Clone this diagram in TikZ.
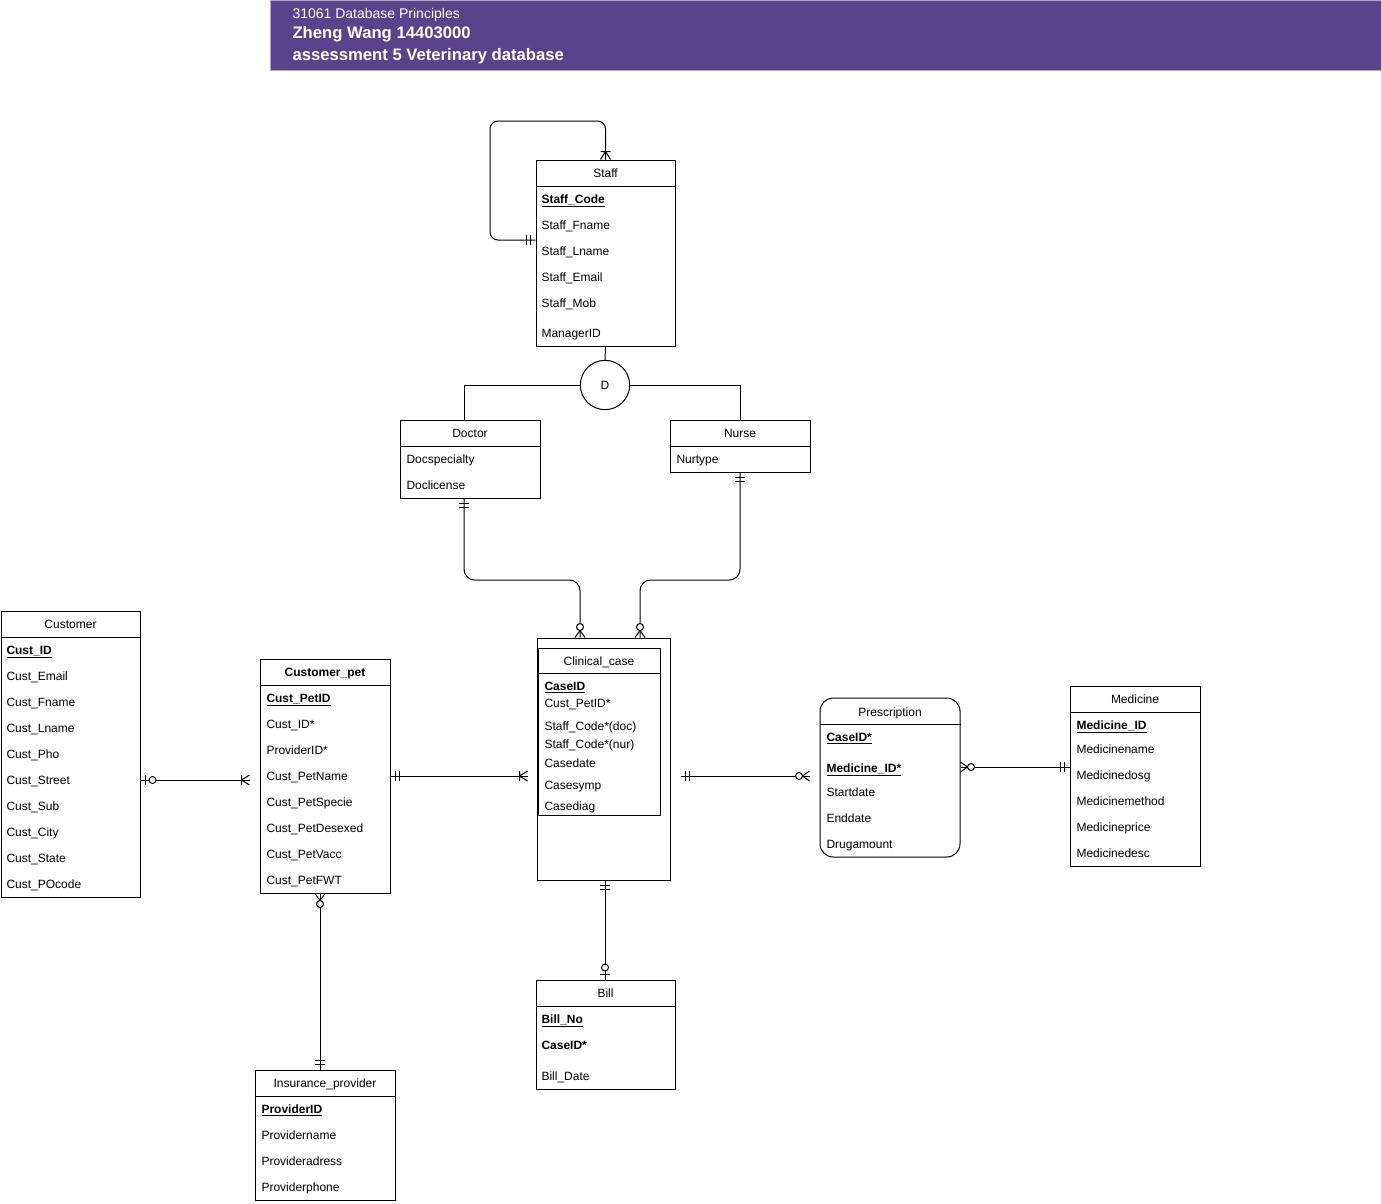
\documentclass[tikz,border=0pt]{standalone}
\usepackage{fontspec}
\setmainfont{Liberation Sans}
\usetikzlibrary{fit,positioning,calc,decorations.markings}

\definecolor{headpurple}{RGB}{91,67,140}
\definecolor{headedge}{RGB}{176,166,206}

\newcommand{\keyattr}[1]{\underline{\textbf{#1}}}
% ER end marks, drawn with the entity at x=0 and the line coming from the left
\newcommand{\mkone}{\draw (-5,-5) -- (-5,5) (-9,-5) -- (-9,5);}
\newcommand{\mkmany}{\draw (-8,-5) -- (-8,5) (-8,0) -- (0,5) (-8,0) -- (0,-5);}
\newcommand{\mkzeromany}{\draw (-7,0) -- (0,5) (-7,0) -- (0,-5); \draw[fill=white] (-10.5,0) circle[radius=3.5];}
\newcommand{\mkzeroone}{\draw (-5,-5) -- (-5,5); \draw[fill=white] (-12,0) circle[radius=3.5];}

\tikzset{
	box/.style={draw, inner sep=0pt, line width=0.75pt},
	head/.style={inner sep=0pt, anchor=base, font=\fontsize{9}{11}\selectfont},
	attr/.style={inner sep=0pt, anchor=base west, font=\fontsize{9}{11}\selectfont},
	link/.style={draw, line width=0.75pt},
	mark from/.style={postaction={decorate, decoration={markings,
		mark=at position 0 with {\begin{scope}[xscale=-1]#1\end{scope}}}}},
	mark to/.style={postaction={decorate, decoration={markings,
		mark=at position 1 with {#1}}}}
}

\begin{document}
\begin{tikzpicture}[x=0.75pt, y=-0.75pt, line width=0.75pt]
		\useasboundingbox (0,0) rectangle (1381,1203);

		% banner
		\draw[fill=headpurple, draw=headedge] (270.5,0) rectangle (1381,70.5);
		\node[anchor=base west, inner sep=0pt, text=white, font=\fontsize{10.5}{12}\selectfont] (course) at (292,18.5) {31061 Database Principles};
		\node[anchor=base west, inner sep=0pt, text=white, font=\bfseries\fontsize{12.5}{14}\selectfont] (student) at (292,38.5) {Zheng Wang 14403000};
		\node[anchor=base west, inner sep=0pt, text=white, font=\bfseries\fontsize{12.5}{14}\selectfont] (task) at (292,60) {assessment 5 Veterinary database};

		% Staff
		\node[box, fit={(536,160) (675,346)}] (staff) {};
		\node[head] (staff-t) at (605.5,177.5) {Staff};
		\draw (staff.west |- 0,186) -- (staff.east |- 0,186);
		\node[attr] (staff-1) at (541,203) {\keyattr{Staff\_Code}};
		\node[attr] (staff-2) at (541,229) {Staff\_Fname};
		\node[attr] (staff-3) at (541,255) {Staff\_Lname};
		\node[attr] (staff-4) at (541,281) {Staff\_Email};
		\node[attr] (staff-5) at (541,307) {Staff\_Mob};
		\node[attr] (staff-6) at (541,337) {ManagerID};

		% disjoint specialisation
		\node[draw, circle, minimum size=37pt, inner sep=0pt, font=\fontsize{9}{11}\selectfont] (d) at (605,385) {D};

		% Doctor and Nurse
		\node[box, fit={(400,420) (540,498)}] (doctor) {};
		\node[head] (doctor-t) at (470,437) {Doctor};
		\draw (doctor.west |- 0,446) -- (doctor.east |- 0,446);
		\node[attr] (doctor-1) at (406,463) {Docspecialty};
		\node[attr] (doctor-2) at (406,489) {Doclicense};

		\node[box, fit={(670,420) (810,472)}] (nurse) {};
		\node[head] (nurse-t) at (740,437) {Nurse};
		\draw (nurse.west |- 0,446) -- (nurse.east |- 0,446);
		\node[attr] (nurse-1) at (676,463) {Nurtype};

		% Clinical_case
		\node[box, fit={(537,638) (670,880)}] (case) {};
		\node[box, fit={(538,648) (660,815)}] (case-in) {};
		\node[head] (case-t) at (599,665) {Clinical\_case};
		\draw (case-in.west |- 0,673) -- (case-in.east |- 0,673);
		\node[attr] (case-1) at (544,690) {\keyattr{CaseID}};
		\node[attr] (case-2) at (544,707) {Cust\_PetID*};
		\node[attr] (case-3) at (544,730) {Staff\_Code*(doc)};
		\node[attr] (case-4) at (544,748) {Staff\_Code*(nur)};
		\node[attr] (case-5) at (544,767) {Casedate};
		\node[attr] (case-6) at (544,789) {Casesymp};
		\node[attr] (case-7) at (544,810) {Casediag};

		% Customer
		\node[box, fit={(1,611) (140,897)}] (customer) {};
		\node[head] (customer-t) at (70.5,628) {Customer};
		\draw (customer.west |- 0,637) -- (customer.east |- 0,637);
		\foreach \fld [count=\i] in {\keyattr{Cust\_ID}, Cust\_Email, Cust\_Fname, Cust\_Lname, Cust\_Pho,
			Cust\_Street, Cust\_Sub, Cust\_City, Cust\_State, Cust\_POcode}
			\node[attr] (customer-\i) at (6,{628+26*\i}) {\fld};

		% Customer_pet
		\node[box, fit={(260,659) (390,893)}] (pet) {};
		\node[head, font=\bfseries\fontsize{9}{11}\selectfont] (pet-t) at (325,676) {Customer\_pet};
		\draw (pet.west |- 0,685) -- (pet.east |- 0,685);
		\foreach \fld [count=\i] in {\keyattr{Cust\_PetID}, Cust\_ID*, ProviderID*, Cust\_PetName, Cust\_PetSpecie,
			Cust\_PetDesexed, Cust\_PetVacc, Cust\_PetFWT}
			\node[attr] (pet-\i) at (266,{676+26*\i}) {\fld};

		% Insurance_provider
		\node[box, fit={(255,1070) (395,1200)}] (ins) {};
		\node[head] (ins-t) at (325,1087) {Insurance\_provider};
		\draw (ins.west |- 0,1096) -- (ins.east |- 0,1096);
		\node[attr] (ins-1) at (261,1113) {\keyattr{ProviderID}};
		\node[attr] (ins-2) at (261,1139) {Providername};
		\node[attr] (ins-3) at (261,1165) {Provideradress};
		\node[attr] (ins-4) at (261,1191) {Providerphone};

		% Prescription
		\node[box, rounded corners=10pt, fit={(820,698) (960,857)}] (presc) {};
		\node[head] (presc-t) at (890,716) {Prescription};
		\draw (presc.west |- 0,724) -- (presc.east |- 0,724);
		\node[attr] (presc-1) at (826,741) {\keyattr{CaseID*}};
		\node[attr] (presc-2) at (826,772) {\keyattr{Medicine\_ID*}};
		\node[attr] (presc-3) at (826,796) {Startdate};
		\node[attr] (presc-4) at (826,822) {Enddate};
		\node[attr] (presc-5) at (826,848) {Drugamount};

		% Medicine
		\node[box, fit={(1070,686) (1200,866)}] (medicine) {};
		\node[head] (medicine-t) at (1135,703) {Medicine};
		\draw (medicine.west |- 0,712) -- (medicine.east |- 0,712);
		\node[attr] (medicine-1) at (1076,729) {\keyattr{Medicine\_ID}};
		\node[attr] (medicine-2) at (1076,753) {Medicinename};
		\node[attr] (medicine-3) at (1076,779) {Medicinedosg};
		\node[attr] (medicine-4) at (1076,805) {Medicinemethod};
		\node[attr] (medicine-5) at (1076,831) {Medicineprice};
		\node[attr] (medicine-6) at (1076,857) {Medicinedesc};

		% Bill
		\node[box, fit={(536,980) (675,1089)}] (bill) {};
		\node[head] (bill-t) at (605.5,997) {Bill};
		\draw (bill.west |- 0,1006) -- (bill.east |- 0,1006);
		\node[attr] (bill-1) at (541,1023) {\keyattr{Bill\_No}};
		\node[attr] (bill-2) at (541,1049) {\textbf{CaseID*}};
		\node[attr] (bill-3) at (541,1080) {Bill\_Date};

		% relationships
		\draw[link, rounded corners=6, mark from=\mkone, mark to=\mkmany]
			(staff.west |- 0,240) -- (490,240) -- (490,121) -- (605.5,121) -- (staff.north);
		\draw[link] (staff.south) -- (d.north);
		\draw[link] (d.west) -| (doctor.north -| 464,0);
		\draw[link] (d.east) -| (nurse.north);
		\draw[link, rounded corners=8, mark from=\mkone, mark to=\mkzeromany]
			(doctor.south -| 464,0) |- (580,580) -- (case.north -| 580,0);
		\draw[link, rounded corners=8, mark from=\mkone, mark to=\mkzeromany]
			(nurse.south) |- (640,580) -- (case.north -| 640,0);
		\draw[link, mark from=\mkzeroone, mark to=\mkmany]
			(customer.east |- 0,780) -- ($(pet.west |- 0,780)+(-10,0)$);
		\draw[link, mark from=\mkone, mark to=\mkmany]
			(pet.east |- 0,776) -- ($(case.west |- 0,776)+(-9,0)$);
		\draw[link, mark from=\mkzeromany, mark to=\mkone]
			(pet.south -| 320,0) -- (ins.north -| 320,0);
		\draw[link, mark from=\mkone, mark to=\mkzeromany]
			($(case.east |- 0,776)+(10,0)$) -- ($(presc.west |- 0,776)+(-10,0)$);
		\draw[link, mark from=\mkzeromany, mark to=\mkone]
			(presc.east |- 0,767) -- (medicine.west |- 0,767);
		\draw[link, mark from=\mkone, mark to=\mkzeroone]
			(case.south -| 605,0) -- (bill.north -| 605,0);
	\end{tikzpicture}
\end{document}
